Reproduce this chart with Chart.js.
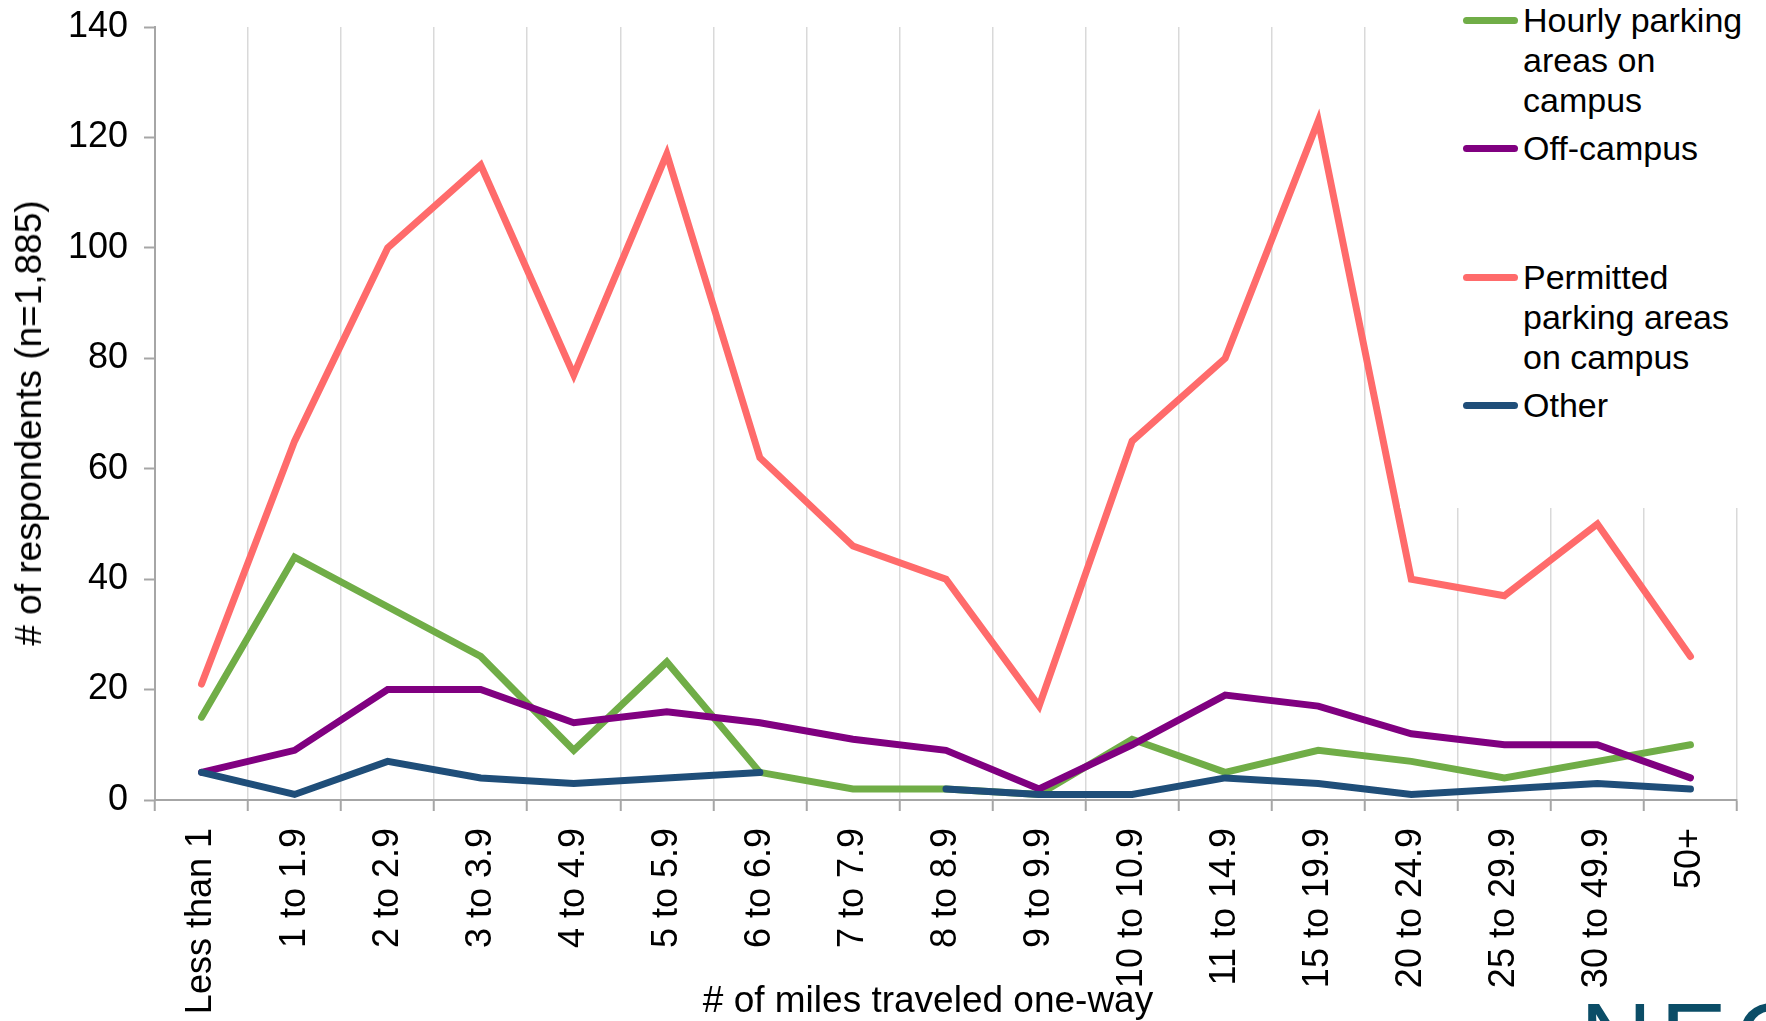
<!DOCTYPE html>
<html>
<head>
<meta charset="utf-8">
<script src="https://cdn.jsdelivr.net/npm/chart.js@4.4.1/dist/chart.umd.min.js"></script>
<style>
  html, body { margin: 0; padding: 0; background: #fff; }
  #wrap { position: relative; width: 1766px; height: 1021px; overflow: hidden; }
  #chart { position: absolute; left: 0; top: 0; }
  .axis-title { position: absolute; white-space: nowrap; color: #000;
    font: 37px "Liberation Sans", Arial, sans-serif; }
  #ytitle { left: 29px; top: 423px; transform: translate(-50%, -50%) rotate(-90deg); }
  #xtitle { left: 928px; top: 1000px; transform: translate(-50%, -50%); }
  #legend { position: absolute; left: 1400px; top: 0; width: 366px; height: 508px; background: #fff; }
  .lg-item { position: absolute; left: 0; width: 366px; }
  .lg-mark { position: absolute; left: 63px; width: 55px; height: 7px; border-radius: 3.5px; }
  .lg-text { position: absolute; left: 123px; top: 0; font: 34px "Liberation Sans", Arial, sans-serif;
    line-height: 40px; color: #000; white-space: nowrap; }
  #logo { position: absolute; left: 1580px; top: 988px; font: 100px "Liberation Sans", Arial, sans-serif;
    line-height: 100px; color: #0b4d67; letter-spacing: 8px; }
</style>
</head>
<body>
<div id="wrap">
  <canvas id="chart" width="1766" height="1021"></canvas>
  <div id="ytitle" class="axis-title"># of respondents (n=1,885)</div>
  <div id="xtitle" class="axis-title"># of miles traveled one-way</div>
  <div id="legend"></div>
  <div id="logo">NEON</div>
</div>
<script>
// categories (miles traveled one-way)
const categories = ['Less than 1', '1 to 1.9', '2 to 2.9', '3 to 3.9', '4 to 4.9', '5 to 5.9',
  '6 to 6.9', '7 to 7.9', '8 to 8.9', '9 to 9.9', '10 to 10.9', '11 to 14.9', '15 to 19.9',
  '20 to 24.9', '25 to 29.9', '30 to 49.9', '50+'];

// series values (# of respondents)
const hourly    = [15, 44, 35, 26, 9, 25, 5, 2, 2, 1, 11, 5, 9, 7, 4, 7, 10];
const offCampus = [5, 9, 20, 20, 14, 16, 14, 11, 9, 2, 10, 19, 17, 12, 10, 10, 4];
const permitted = [21, 65, 100, 115, 77, 117, 62, 46, 40, 17, 65, 80, 123, 40, 37, 50, 26];
const other     = [5, 1, 7, 4, 3, 4, 5, null, 2, 1, 1, 4, 3, 1, 2, 3, 2];

// y tick labels
const yTicks = [0, 20, 40, 60, 80, 100, 120, 140];

// legend text, broken as in the original
const legendLines = [
  ['Hourly parking', 'areas on', 'campus'],
  ['Off-campus'],
  ['Permitted', 'parking areas', 'on campus'],
  ['Other']
];

const colors = ['#70ad47', '#800080', '#ff6b6b', '#1f4e79'];
const series = [hourly, offCampus, permitted, other];

const datasets = series.map((data, i) => ({
  label: legendLines[i].join(' '),
  data: data,
  borderColor: colors[i],
  backgroundColor: colors[i],
  borderWidth: 7,
  borderCapStyle: 'round',
  borderJoinStyle: 'miter',
  pointRadius: 0,
  tension: 0,
  spanGaps: false,
  order: 4 - i   // later series drawn on top, as in the source
}));

const tickFont = { family: '"Liberation Sans", Arial, sans-serif', size: 36 };

new Chart(document.getElementById('chart'), {
  type: 'line',
  data: { labels: categories, datasets: datasets },
  options: {
    responsive: false,
    animation: false,
    devicePixelRatio: 1,
    layout: { padding: { left: 0, top: 27, right: 29, bottom: 0 } },
    plugins: { legend: { display: false }, tooltip: { enabled: false } },
    scales: {
      x: {
        type: 'category',
        offset: true,
        grid: { offset: true, color: '#d9d9d9', lineWidth: 1.5, tickColor: '#a6a6a6', tickWidth: 2, tickLength: 11 },
        border: { display: true, color: '#a6a6a6', width: 2 },
        ticks: { font: tickFont, color: '#000', minRotation: 90, maxRotation: 90, padding: 17, autoSkip: false },
        afterFit: s => { s.height = 221; s.paddingLeft = 0; s.paddingRight = 0; }
      },
      y: {
        min: 0,
        max: 140,
        grid: { drawOnChartArea: false, tickColor: '#a6a6a6', tickWidth: 2, tickLength: 11 },
        border: { display: true, color: '#a6a6a6', width: 2 },
        ticks: { font: tickFont, color: '#000', padding: 16 },
        afterBuildTicks: s => { s.ticks = yTicks.map(v => ({ value: v })); },
        afterFit: s => { s.width = 155; s.paddingTop = 0; s.paddingBottom = 0; }
      }
    }
  }
});

// legend drawn over the plot with a white box, like the source
const legendEl = document.getElementById('legend');
const entryTops = [0, 128, 257, 385];
legendLines.forEach((lines, i) => {
  const item = document.createElement('div');
  item.className = 'lg-item';
  item.style.top = entryTops[i] + 'px';
  const mark = document.createElement('div');
  mark.className = 'lg-mark';
  mark.style.top = '17px';
  mark.style.background = colors[i];
  const text = document.createElement('div');
  text.className = 'lg-text';
  text.innerHTML = lines.join('<br>');
  item.appendChild(mark);
  item.appendChild(text);
  legendEl.appendChild(item);
});
</script>
</body>
</html>
